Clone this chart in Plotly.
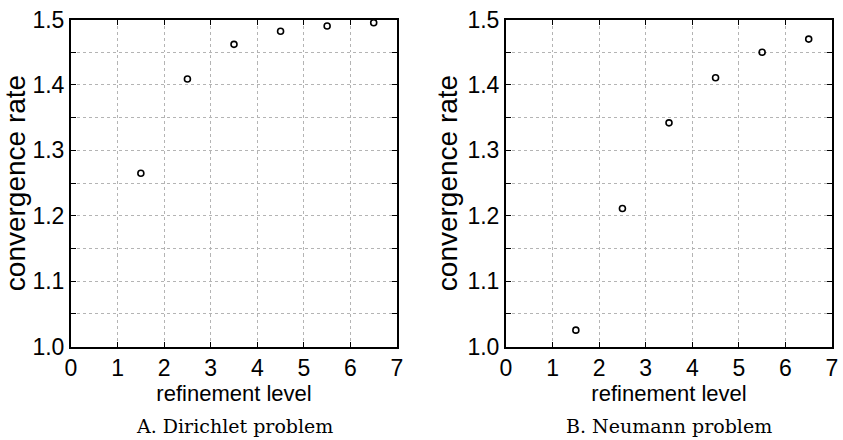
import plotly.graph_objects as go

levels = [1.5, 2.5, 3.5, 4.5, 5.5, 6.5]
dirichlet_rate = [1.265, 1.409, 1.462, 1.482, 1.490, 1.495]
neumann_rate = [1.025, 1.211, 1.342, 1.411, 1.450, 1.470]
x_ticks = [0, 1, 2, 3, 4, 5, 6, 7]
y_ticks = [1.0, 1.1, 1.2, 1.3, 1.4, 1.5]
y_labels = ["1.0", "1.1", "1.2", "1.3", "1.4", "1.5"]
captions = ["A. Dirichlet problem", "B. Neumann problem"]

W, H = 843, 440
tick_font = dict(family="Liberation Sans, Arial", size=23, color="black")
title_font = dict(family="Liberation Sans, Arial", size=22, color="black")
ytitle_font = dict(family="Liberation Sans, Arial", size=28, color="black")
cap_font = dict(family="DejaVu Serif, serif", size=19, color="black")

fig = go.Figure()
marker = dict(symbol="circle-open", size=6, color="black", line=dict(width=1.6, color="black"))
fig.add_trace(go.Scatter(x=levels, y=dirichlet_rate, mode="markers", marker=marker,
                         xaxis="x", yaxis="y", showlegend=False))
fig.add_trace(go.Scatter(x=levels, y=neumann_rate, mode="markers", marker=marker,
                         xaxis="x2", yaxis="y2", showlegend=False))

grid_color = "#b4b4b4"

def xaxis(domain, anchor):
    return dict(domain=domain, anchor=anchor, range=[0, 7], tickvals=x_ticks,
                ticks="inside", ticklen=5, tickwidth=1, tickcolor="black",
                showline=True, linecolor="black", linewidth=2, mirror="ticks",
                showgrid=True, gridcolor=grid_color, griddash="dot", gridwidth=1,
                zeroline=False, tickfont=tick_font, automargin=False,
                title=dict(text="refinement level", font=title_font, standoff=2))

def yaxis(domain, anchor):
    return dict(domain=domain, anchor=anchor, range=[1.0, 1.5], tickvals=y_ticks, ticktext=y_labels,
                ticks="inside", ticklen=5, tickwidth=1, tickcolor="black",
                showline=True, linecolor="black", linewidth=2, mirror="ticks",
                showgrid=True, gridcolor=grid_color, griddash="dot", gridwidth=1,
                minor=dict(dtick=0.05, tick0=1.0, showgrid=True, gridcolor=grid_color, griddash="dot",
                           gridwidth=1, ticks="inside", ticklen=5, tickcolor="black"),
                zeroline=False, tickfont=tick_font, automargin=False,
                title=dict(text="convergence rate", font=ytitle_font, standoff=2))

ydom = [(H - 346.5) / H, (H - 19.5) / H]
x1dom = [71 / W, 397 / W]
x2dom = [506 / W, 832 / W]

fig.update_layout(
    width=W, height=H,
    margin=dict(l=0, r=0, t=0, b=0),
    paper_bgcolor="white", plot_bgcolor="white",
    xaxis=xaxis(x1dom, "y"), yaxis=yaxis(ydom, "x"),
    xaxis2=xaxis(x2dom, "y2"), yaxis2=yaxis(ydom, "x2"),
)

for i, dom in enumerate([x1dom, x2dom]):
    fig.add_annotation(text=captions[i], x=(dom[0] + dom[1]) / 2, y=(H - 426) / H,
                       xref="paper", yref="paper", showarrow=False, font=cap_font,
                       xanchor="center", yanchor="middle")

fig.write_html("out.html", config={"displayModeBar": False},
               post_script="document.body.style.margin='0';document.body.style.overflow='hidden';")
